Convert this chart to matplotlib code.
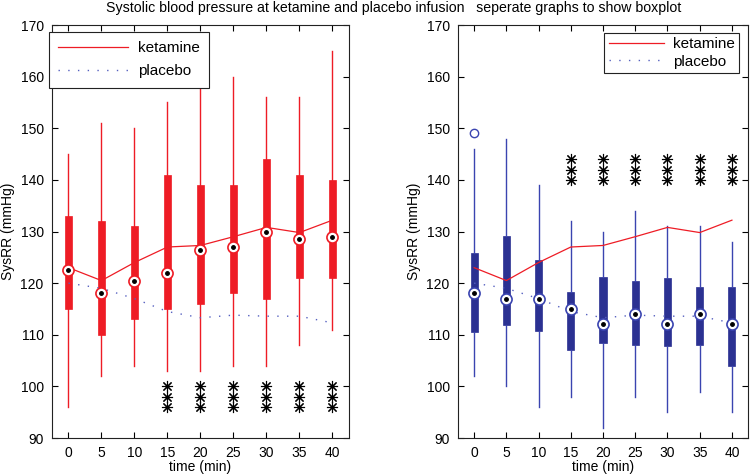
import numpy as np
import matplotlib.pyplot as plt

plt.rcParams['font.family'] = ['Liberation Sans', 'DejaVu Sans']

# time points (min)
times = [0, 5, 10, 15, 20, 25, 30, 35, 40]

# ketamine boxplot values
ket_lo = [96, 102, 104, 103, 103, 104, 104, 108, 111]
ket_q1 = [115, 110, 113, 115, 116, 118, 117, 121, 121]
ket_med = [122.5, 118, 120.5, 122, 126.5, 127, 130, 128.5, 129]
ket_q3 = [133, 132, 131, 141, 139, 139, 144, 141, 140]
ket_hi = [145, 151, 150, 155, 158, 160, 156, 156, 165]
ket_out = {}

# placebo boxplot values
pla_lo = [102, 100, 96, 98, 92, 98, 95, 99, 95]
pla_q1 = [110.5, 111.8, 110.8, 107, 108.5, 108, 107.8, 108, 104]
pla_med = [118, 117, 117, 115, 112, 114, 112, 114, 112]
pla_q3 = [125.8, 129.2, 124.5, 118.2, 121.2, 120.5, 121, 119.2, 119.2]
pla_hi = [146, 148, 139, 132, 130, 134, 131, 131, 128]
pla_out = {0: [149]}

# mean curves
ket_mean = [123, 120.5, 124, 127, 127.3, 129, 130.8, 129.8, 132.2]
pla_mean = [120, 119, 117, 114.5, 113.3, 113.8, 113.6, 113.6, 112.3]

# significance stars
sig_times = [15, 20, 25, 30, 35, 40]
left_star_y = [96, 98, 100]
right_star_y = [140, 142, 144]

RED = '#ee1c25'
NAVY = '#2b3192'
BLUE = '#3a44b0'
DOT = '#5560c0'

fig = plt.figure(figsize=(7.5, 4.76), dpi=100)
ax1 = fig.add_axes([0.0693, 0.0798, 0.396, 0.8676])
ax2 = fig.add_axes([0.6107, 0.0798, 0.3867, 0.8676])

pos = np.arange(len(times))


def draw_boxes(ax, lo, q1, med, q3, hi, out, color, wcolor, outmarker):
    stats = []
    for i in range(len(times)):
        stats.append({'whislo': lo[i], 'q1': q1[i], 'med': med[i],
                      'q3': q3[i], 'whishi': hi[i], 'fliers': []})
    ax.bxp(stats, positions=pos, widths=0.22, patch_artist=True,
           showcaps=False, showfliers=False,
           boxprops=dict(facecolor=color, edgecolor=color, linewidth=0.5),
           whiskerprops=dict(color=wcolor, linewidth=1.0, linestyle='-'),
           medianprops=dict(linewidth=0))
    for t, vals in out.items():
        i = times.index(t)
        ax.plot([pos[i]] * len(vals), vals, linestyle='none', marker='o',
                markersize=6, markerfacecolor='none', markeredgecolor=outmarker,
                markeredgewidth=1.0)


def finish(ax, leg_anchor, leg_loc, lsp, bpad, hlen):
    ln1, = ax.plot(pos, ket_mean, color=RED, linewidth=0.9, zorder=3)
    ln2, = ax.plot(pos, pla_mean, color=DOT, linewidth=1.0, linestyle=(0, (1, 6)), zorder=3)
    ax.set_xlim(-0.5, 8.5)
    ax.set_ylim(90, 170)
    ax.set_xticks(pos)
    ax.set_xticklabels([str(t) for t in times])
    ax.set_yticks(np.arange(90, 171, 10))
    ax.tick_params(direction='in', top=True, right=True, labelsize=10, length=4,
                   width=0.8, pad=6)
    ax.set_xlabel('time (min)', fontsize=10, labelpad=0)
    ax.set_ylabel('SysRR (mmHg)', fontsize=10, labelpad=4)
    for s in ax.spines.values():
        s.set_linewidth(0.8)
        s.set_color('#222222')
    leg = ax.legend([ln1, ln2], ['ketamine', 'placebo'], loc=leg_loc,
                    bbox_to_anchor=leg_anchor, fontsize=11, fancybox=False,
                    framealpha=1, edgecolor='#222222', borderpad=bpad,
                    borderaxespad=0, handlelength=hlen, handletextpad=0.6,
                    labelspacing=lsp)
    leg.get_frame().set_linewidth(0.8)
    leg.set_zorder(10)


def medians(ax, med, color):
    ax.plot(pos, med, linestyle='none', marker='o', markersize=8,
            markerfacecolor='white', markeredgecolor=color, markeredgewidth=1.2, zorder=4)
    ax.plot(pos, med, linestyle='none', marker='o', markersize=2.5,
            color='black', zorder=5)


def stars(ax, ys):
    for y in ys:
        ax.plot([pos[times.index(t)] for t in sig_times], [y] * len(sig_times),
                linestyle='none', marker=(8, 2, 0), markersize=8,
                color='black', markeredgewidth=0.8, zorder=4)


# left: ketamine boxes
draw_boxes(ax1, ket_lo, ket_q1, ket_med, ket_q3, ket_hi, ket_out, RED, RED, RED)
medians(ax1, ket_med, RED)
stars(ax1, left_star_y)
finish(ax1, (-0.01, 0.983), 'upper left', 0.6, 0.6, 4.6)

# right: placebo boxes
draw_boxes(ax2, pla_lo, pla_q1, pla_med, pla_q3, pla_hi, pla_out, NAVY, BLUE, BLUE)
medians(ax2, pla_med, BLUE)
stars(ax2, right_star_y)
finish(ax2, (0.97, 0.981), 'upper right', 0.2, 0.3, 3.6)

fig.text(0.525, 0.997, 'Systolic blood pressure at ketamine and placebo infusion   '
         'seperate graphs to show boxplot', ha='center', va='top', fontsize=10.2)

fig.savefig('out.png', dpi=100)
